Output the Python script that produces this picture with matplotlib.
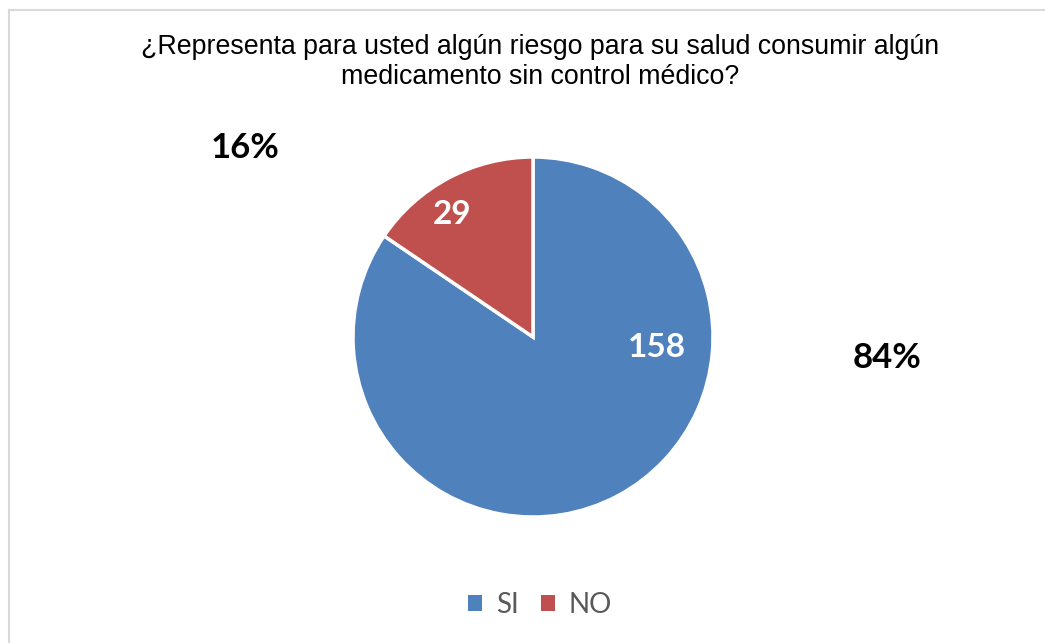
import matplotlib.pyplot as plt
from matplotlib.lines import Line2D
from matplotlib.patches import Patch

# Survey answers
categories = ["SI", "NO"]
counts = [158, 29]
percent_labels = ["84%", "16%"]
colors = ["#4F81BD", "#C0504D"]

title = ("¿Representa para usted algún riesgo para su salud consumir algún\n"
         "medicamento sin control médico?")

fig = plt.figure(figsize=(10.45, 6.43), dpi=100)

# Pie axes: centre ~ (533, 337) px, radius ~ 180 px
ax = fig.add_axes([(533 - 180) / 1045, (643 - 337 - 180) / 643,
                   360 / 1045, 360 / 643])
wedges, _ = ax.pie(counts, colors=colors, startangle=90, counterclock=False,
                   radius=1.0,
                   wedgeprops=dict(edgecolor="white", linewidth=2.5))
ax.set_xlim(-1, 1)
ax.set_ylim(-1, 1)
ax.set_aspect("equal")
ax.axis("off")

# Value labels inside the slices
value_pos = [(0.69, -0.06), (-0.45, 0.68)]
for n, (x, y) in zip(counts, value_pos):
    ax.text(x, y, str(n), ha="center", va="center", color="white",
            fontsize=24, fontweight="bold", family="Lato")

# Percentage labels outside
pct_pos = [(887 / 1045, 1 - 358 / 643), (245 / 1045, 1 - 148 / 643)]
for lab, (x, y) in zip(percent_labels, pct_pos):
    fig.text(x, y, lab, ha="center", va="center", color="black",
             fontsize=25, fontweight="bold", family="Lato")

fig.text(540 / 1045, 1 - 62 / 643, title, ha="center", va="center",
         fontsize=19.3, family="Liberation Sans", linespacing=1.15)

handles = [Patch(facecolor=c, edgecolor="none") for c in colors]
fig.legend(handles, categories, loc="center", bbox_to_anchor=(540 / 1045, 1 - 605 / 643),
           ncol=2, frameon=False, prop=dict(family="Lato", size=20),
           labelcolor="#595959", handlelength=0.5, handleheight=0.5,
           handletextpad=0.5, columnspacing=0.8)

# thin grey chart border (top and left visible)
fig.add_artist(Line2D([9 / 1045, 9 / 1045], [0, 1 - 10 / 643],
                      transform=fig.transFigure, color="#D9D9D9", lw=1.5))
fig.add_artist(Line2D([9 / 1045, 1], [1 - 10 / 643, 1 - 10 / 643],
                      transform=fig.transFigure, color="#D9D9D9", lw=1.5))

fig.savefig("out.png", dpi=100, facecolor="white")
